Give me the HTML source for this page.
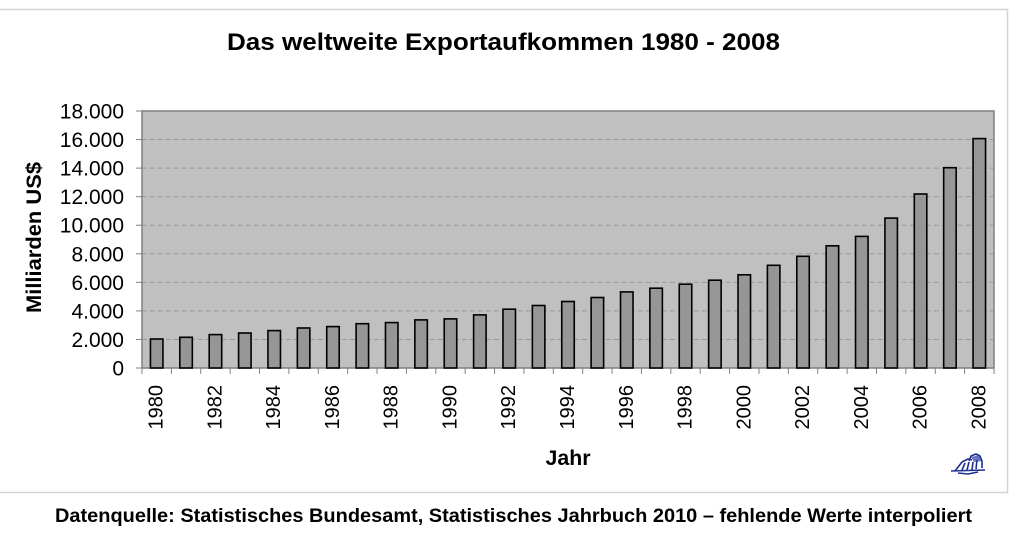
<!DOCTYPE html>
<html>
<head>
<meta charset="utf-8">
<style>
  html, body { margin: 0; padding: 0; background: #ffffff; }
  body { width: 1024px; height: 544px; overflow: hidden; }
  svg { display: block; font-family: "Liberation Sans", Arial, sans-serif; }
</style>
</head>
<body>
<svg width="1024" height="544" viewBox="0 0 1024 544" xmlns="http://www.w3.org/2000/svg">
  <rect x="0" y="0" width="1024" height="544" fill="#ffffff"/>
  <!-- outer frame -->
  <path d="M-2 9.5 H1007.5 V492.5 H-2" fill="none" stroke="#d4d4d4" stroke-width="1.5"/>

  <!-- title -->
  <text x="503.5" y="50" text-anchor="middle" font-size="24" font-weight="bold" fill="#000" textLength="553" lengthAdjust="spacingAndGlyphs">Das weltweite Exportaufkommen 1980 - 2008</text>

  <!-- plot area -->
  <rect x="142" y="111" width="852" height="257" fill="#c0c0c0"/>
  <!-- gridlines -->
  <g stroke="#9a9a9a" stroke-width="1" stroke-dasharray="5,3">
    <line x1="142" y1="339.44" x2="994" y2="339.44"/>
    <line x1="142" y1="310.89" x2="994" y2="310.89"/>
    <line x1="142" y1="282.33" x2="994" y2="282.33"/>
    <line x1="142" y1="253.78" x2="994" y2="253.78"/>
    <line x1="142" y1="225.22" x2="994" y2="225.22"/>
    <line x1="142" y1="196.67" x2="994" y2="196.67"/>
    <line x1="142" y1="168.11" x2="994" y2="168.11"/>
    <line x1="142" y1="139.56" x2="994" y2="139.56"/>
  </g>
  <rect x="142" y="111" width="852" height="257" fill="none" stroke="#808080" stroke-width="1.5"/>

  <!-- y ticks -->
  <g stroke="#808080" stroke-width="1">
    <line x1="136" y1="368" x2="142" y2="368"/>
    <line x1="136" y1="339.44" x2="142" y2="339.44"/>
    <line x1="136" y1="310.89" x2="142" y2="310.89"/>
    <line x1="136" y1="282.33" x2="142" y2="282.33"/>
    <line x1="136" y1="253.78" x2="142" y2="253.78"/>
    <line x1="136" y1="225.22" x2="142" y2="225.22"/>
    <line x1="136" y1="196.67" x2="142" y2="196.67"/>
    <line x1="136" y1="168.11" x2="142" y2="168.11"/>
    <line x1="136" y1="139.56" x2="142" y2="139.56"/>
    <line x1="136" y1="111" x2="142" y2="111"/>
  </g>
  <!-- x ticks -->
  <g stroke="#808080" stroke-width="1">
    <line x1="142" y1="368" x2="142" y2="374"/>
    <line x1="171.38" y1="368" x2="171.38" y2="374"/>
    <line x1="200.76" y1="368" x2="200.76" y2="374"/>
    <line x1="230.14" y1="368" x2="230.14" y2="374"/>
    <line x1="259.52" y1="368" x2="259.52" y2="374"/>
    <line x1="288.90" y1="368" x2="288.90" y2="374"/>
    <line x1="318.28" y1="368" x2="318.28" y2="374"/>
    <line x1="347.66" y1="368" x2="347.66" y2="374"/>
    <line x1="377.03" y1="368" x2="377.03" y2="374"/>
    <line x1="406.41" y1="368" x2="406.41" y2="374"/>
    <line x1="435.79" y1="368" x2="435.79" y2="374"/>
    <line x1="465.17" y1="368" x2="465.17" y2="374"/>
    <line x1="494.55" y1="368" x2="494.55" y2="374"/>
    <line x1="523.93" y1="368" x2="523.93" y2="374"/>
    <line x1="553.31" y1="368" x2="553.31" y2="374"/>
    <line x1="582.69" y1="368" x2="582.69" y2="374"/>
    <line x1="612.07" y1="368" x2="612.07" y2="374"/>
    <line x1="641.45" y1="368" x2="641.45" y2="374"/>
    <line x1="670.83" y1="368" x2="670.83" y2="374"/>
    <line x1="700.21" y1="368" x2="700.21" y2="374"/>
    <line x1="729.59" y1="368" x2="729.59" y2="374"/>
    <line x1="758.97" y1="368" x2="758.97" y2="374"/>
    <line x1="788.34" y1="368" x2="788.34" y2="374"/>
    <line x1="817.72" y1="368" x2="817.72" y2="374"/>
    <line x1="847.10" y1="368" x2="847.10" y2="374"/>
    <line x1="876.48" y1="368" x2="876.48" y2="374"/>
    <line x1="905.86" y1="368" x2="905.86" y2="374"/>
    <line x1="935.24" y1="368" x2="935.24" y2="374"/>
    <line x1="964.62" y1="368" x2="964.62" y2="374"/>
    <line x1="994" y1="368" x2="994" y2="374"/>
  </g>

  <!-- bars -->
  <g fill="#969696" stroke="#000" stroke-width="1.6">
    <rect x="150.44" y="339.0" width="12.5" height="29.0"/>
    <rect x="179.82" y="337.3" width="12.5" height="30.7"/>
    <rect x="209.20" y="334.6" width="12.5" height="33.4"/>
    <rect x="238.58" y="333.0" width="12.5" height="35.0"/>
    <rect x="267.96" y="330.6" width="12.5" height="37.4"/>
    <rect x="297.34" y="328.0" width="12.5" height="40.0"/>
    <rect x="326.72" y="326.6" width="12.5" height="41.4"/>
    <rect x="356.09" y="323.7" width="12.5" height="44.3"/>
    <rect x="385.47" y="322.6" width="12.5" height="45.4"/>
    <rect x="414.85" y="319.9" width="12.5" height="48.1"/>
    <rect x="444.23" y="318.9" width="12.5" height="49.1"/>
    <rect x="473.61" y="314.9" width="12.5" height="53.1"/>
    <rect x="502.99" y="309.2" width="12.5" height="58.8"/>
    <rect x="532.37" y="305.5" width="12.5" height="62.5"/>
    <rect x="561.75" y="301.5" width="12.5" height="66.5"/>
    <rect x="591.13" y="297.5" width="12.5" height="70.5"/>
    <rect x="620.51" y="291.9" width="12.5" height="76.1"/>
    <rect x="649.88" y="288.2" width="12.5" height="79.8"/>
    <rect x="679.26" y="284.2" width="12.5" height="83.8"/>
    <rect x="708.64" y="280.2" width="12.5" height="87.8"/>
    <rect x="738.02" y="274.8" width="12.5" height="93.2"/>
    <rect x="767.40" y="265.3" width="12.5" height="102.7"/>
    <rect x="796.78" y="256.3" width="12.5" height="111.7"/>
    <rect x="826.16" y="245.8" width="12.5" height="122.2"/>
    <rect x="855.54" y="236.4" width="12.5" height="131.6"/>
    <rect x="884.92" y="218.1" width="12.5" height="149.9"/>
    <rect x="914.30" y="194.0" width="12.5" height="174.0"/>
    <rect x="943.67" y="167.7" width="12.5" height="200.3"/>
    <rect x="973.05" y="138.6" width="12.5" height="229.4"/>
  </g>

  <!-- y tick labels -->
  <g font-size="21" text-anchor="end" fill="#000">
    <text x="124" y="375.5">0</text>
    <text x="124" y="346.9">2.000</text>
    <text x="124" y="318.4">4.000</text>
    <text x="124" y="289.8">6.000</text>
    <text x="124" y="261.3">8.000</text>
    <text x="124" y="232.7">10.000</text>
    <text x="124" y="204.2">12.000</text>
    <text x="124" y="175.6">14.000</text>
    <text x="124" y="147.1">16.000</text>
    <text x="124" y="118.5">18.000</text>
  </g>

  <!-- y axis title -->
  <text transform="translate(41,237.5) rotate(-90)" text-anchor="middle" font-size="21" font-weight="bold" fill="#000" textLength="151" lengthAdjust="spacingAndGlyphs">Milliarden US$</text>

  <!-- x tick labels -->
  <g font-size="20" text-anchor="end" fill="#000">
    <text transform="translate(162.7,385) rotate(-90)">1980</text>
    <text transform="translate(221.5,385) rotate(-90)">1982</text>
    <text transform="translate(280.2,385) rotate(-90)">1984</text>
    <text transform="translate(339.0,385) rotate(-90)">1986</text>
    <text transform="translate(397.7,385) rotate(-90)">1988</text>
    <text transform="translate(456.5,385) rotate(-90)">1990</text>
    <text transform="translate(515.2,385) rotate(-90)">1992</text>
    <text transform="translate(574.0,385) rotate(-90)">1994</text>
    <text transform="translate(632.8,385) rotate(-90)">1996</text>
    <text transform="translate(691.5,385) rotate(-90)">1998</text>
    <text transform="translate(750.3,385) rotate(-90)">2000</text>
    <text transform="translate(809.0,385) rotate(-90)">2002</text>
    <text transform="translate(867.8,385) rotate(-90)">2004</text>
    <text transform="translate(926.5,385) rotate(-90)">2006</text>
    <text transform="translate(985.3,385) rotate(-90)">2008</text>
  </g>

  <!-- x axis title -->
  <text x="568" y="465" text-anchor="middle" font-size="21" font-weight="bold" fill="#000" textLength="45" lengthAdjust="spacingAndGlyphs">Jahr</text>

  <!-- logo -->
  <g fill="none" stroke="#1f2f8f" stroke-width="1.6" stroke-linejoin="round">
    <path d="M951 471 L985 470"/>
    <path d="M955 471 L962 462 L968 459 L972 460"/>
    <path d="M969 461 L971 456 L976 454 L980 456 L982 461 L982 468"/>
    <path d="M962 470 L965 463 M967 470 L969 462 M972 470 L973 462 M976 469 L977 460"/>
    <path d="M958 473 L968 474 L978 472"/>
  </g>
  <g fill="#2a3aa0" opacity="0.7">
    <path d="M971 457 L980 455 L982 461 L974 462 Z"/>
  </g>

  <!-- footer -->
  <text x="513.5" y="522" text-anchor="middle" font-size="19.5" font-weight="bold" fill="#000" textLength="917" lengthAdjust="spacingAndGlyphs">Datenquelle: Statistisches Bundesamt, Statistisches Jahrbuch 2010 – fehlende Werte interpoliert</text>
</svg>
</body>
</html>
